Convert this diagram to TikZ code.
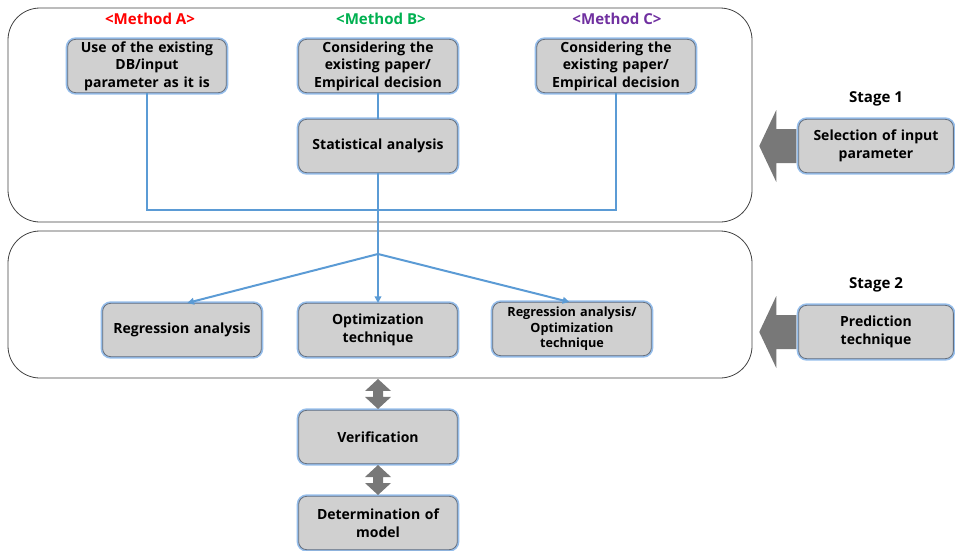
\documentclass[tikz,border=0pt]{standalone}
\usepackage{fontspec}
\setmainfont{Open Sans}
\usetikzlibrary{arrows.meta,calc}
\definecolor{boxfill}{RGB}{208,208,208}
\definecolor{boxedge}{RGB}{100,110,125}
\definecolor{glow}{RGB}{150,190,235}
\definecolor{linkblue}{RGB}{91,155,213}
\definecolor{bigarrow}{RGB}{120,120,120}
\definecolor{mA}{RGB}{255,0,0}
\definecolor{mB}{RGB}{0,176,80}
\definecolor{mC}{RGB}{112,48,160}
\tikzset{
  procbox/.style={rectangle, rounded corners=6pt, fill=boxfill, draw=boxedge, line width=0.6pt,
    preaction={draw=glow, line width=3pt},
    minimum width=119pt, minimum height=40pt, text width=115pt, align=center,
    font=\fontsize{10.5}{13.2}\selectfont\bfseries, inner sep=1pt},
  smallbox/.style={procbox, font=\fontsize{9.5}{11.5}\selectfont\bfseries},
  stagebox/.style={procbox, minimum width=116pt, text width=112pt},
  frame/.style={draw=black!75, line width=0.6pt, rounded corners=24pt},
  link/.style={draw=linkblue, line width=1.5pt},
  linkarrow/.style={link, -{Triangle[length=5pt,width=5pt]}},
  methodlabel/.style={font=\fontsize{11.3}{13}\selectfont\bfseries},
  stagelabel/.style={font=\fontsize{11.3}{13}\selectfont\bfseries},
  fatarrow/.style={fill=bigarrow, draw=none}
}
\begin{document}
\begin{tikzpicture}[x=0.75pt,y=-0.75pt]
\useasboundingbox (0,0) rectangle (955,550);
% frames
\draw[frame] (8,8) rectangle (752,222);
\draw[frame] (8,231) rectangle (752,378);
% method labels
\node[methodlabel, text=mA] (la) at (150,19) {<Method A>};
\node[methodlabel, text=mB] (lb) at (381,19) {<Method B>};
\node[methodlabel, text=mC] (lc) at (617,19) {<Method C>};
% stage 1 boxes
\node[procbox] (A) at (147,66) {Use of the existing\\DB/input\\parameter as it is};
\node[procbox] (B) at (378,66) {Considering the\\existing paper/\\Empirical decision};
\node[procbox] (C) at (616,66) {Considering the\\existing paper/\\Empirical decision};
\node[procbox] (S) at (378,146) {Statistical analysis};
% stage 2 boxes
\node[procbox] (R) at (182,330) {Regression analysis};
\node[procbox] (O) at (378,330) {Optimization\\technique};
\node[smallbox] (RO) at (572,329) {Regression analysis/\\Optimization\\technique};
% bottom boxes
\node[procbox] (V) at (378,437) {Verification};
\node[procbox] (D) at (378,523) {Determination of\\model};
% stage side
\node[stagelabel] (st1) at (876,99) {Stage 1};
\node[stagebox] (P1) at (876,146) {Selection of input\\parameter};
\node[stagelabel] (st2) at (876,285) {Stage 2};
\node[stagebox] (P2) at (876,332) {Prediction\\technique};
% connectors
\coordinate (j) at (378,210);
\coordinate (b) at (378,254);
\draw[link] (A.south) -- (A.south |- j) -- (C.south |- j) -- (C.south);
\draw[link] (B.south) -- (S.north);
\draw[link] (S.south) -- (b);
\draw[linkarrow] (b) -- ([xshift=4]R.north);
\draw[linkarrow] (b) -- (O.north);
\draw[linkarrow] (b) -- ([xshift=-2]RO.north);
% big left arrows
\foreach \n in {P1,P2}{
  \draw[fatarrow, shift={(\n.west)}] (-39,0) -- (-22,-36) -- (-22,-17) -- (-2,-17) -- (-2,17) -- (-22,17) -- (-22,36) -- cycle;
}
% double arrows
\coordinate (d1) at ($(378,378)!0.5!(V.north)$);
\coordinate (d2) at ($(V.south)!0.5!(D.north)$);
\foreach \c in {d1,d2}{
  \draw[fatarrow, shift={(\c)}] (0,-15) -- (13,-3) -- (5,-3) -- (5,3) -- (13,3) -- (0,15) -- (-13,3) -- (-5,3) -- (-5,-3) -- (-13,-3) -- cycle;
}
\end{tikzpicture}
\end{document}
